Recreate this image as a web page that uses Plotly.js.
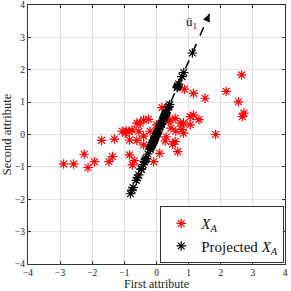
<!DOCTYPE html>
<html><head><meta charset="utf-8">
<script src="https://cdn.plot.ly/plotly-3.0.1.min.js"></script>
<style>html,body{margin:0;padding:0;background:#fff;}#c{width:291px;height:291px;}</style>
</head><body><div id="c"></div>
<script>
// Original points X_A (first attribute, second attribute)
const xA = [-2.89,-2.58,-2.25,-2.13,-1.93,-1.71,-1.48,-1.37,-1.31,-1.07,-0.94,-0.85,-0.76,-0.84,-0.61,-0.84,-0.69,-0.75,-0.61,-0.40,-0.25,-0.51,0.17,0.87,1.15,1.51,2.17,2.65,2.55,2.72,2.67,1.84,0.42,0.58,0.74,1.05,1.15,1.32,0.84,0.79,1.05,0.84,0.30,0.38,-0.40,-0.40,-0.09,0.10,0.58,0.66,0.27,0.50,-0.97,-0.55,-0.20,0.00,0.60,0.45];
const yA = [-0.91,-0.91,-0.61,-1.02,-0.84,-0.18,-0.84,-0.68,-0.14,0.10,0.11,0.09,0.14,-0.17,0.35,-0.63,-0.81,-0.94,-0.18,0.45,0.47,0.35,0.83,1.40,1.27,1.12,1.33,1.84,1.01,0.66,0.55,0.00,0.45,0.50,0.35,0.55,0.60,0.46,0.35,0.16,0.30,0.04,-0.07,0.40,-0.05,-0.32,-0.84,-0.58,-0.22,-0.53,-0.20,-0.30,0.04,0.10,0.10,0.30,0.10,0.20];
// first principal direction u1 (unit vector) and arrow length
const u1 = [0.405, 0.914];
const arrowLen = 4.07;
const legendNames = ['<i>X</i><sub><i>A</i></sub>', 'Projected <i>X</i><sub><i>A</i></sub>'];
const axisTitles = ['First attribute', 'Second attribute'];
const tickVals = [-4,-3,-2,-1,0,1,2,3,4];

// Projection of each point onto u1
const t = xA.map((x,i)=> x*u1[0] + yA[i]*u1[1]);
const xP = t.map(v=>v*u1[0]);
const yP = t.map(v=>v*u1[1]);
const tip = [arrowLen*u1[0], arrowLen*u1[1]];

const serif = 'Liberation Serif, Times New Roman, serif';
const traces = [
 {x:xA, y:yA, mode:'markers', type:'scatter', name:legendNames[0],
  marker:{symbol:'asterisk-open', size:8, color:'red', line:{color:'red', width:1.2}}},
 {x:xP, y:yP, mode:'markers', type:'scatter', name:legendNames[1],
  marker:{symbol:'asterisk-open', size:8, color:'black', line:{color:'black', width:1.2}}},
 {x:[0, tip[0]], y:[0, tip[1]], mode:'lines', type:'scatter', showlegend:false,
  line:{color:'black', width:1.5, dash:'dash'}, hoverinfo:'skip'}
];
const ax = {
 range:[-4,4], tickvals:tickVals, showgrid:true, gridcolor:'#e3e3e3', gridwidth:1,
 zeroline:false, showline:true, linecolor:'#333', linewidth:1, mirror:'ticks',
 ticks:'inside', ticklen:3, tickcolor:'#333', tickfont:{family:serif, size:9.5, color:'#222'}
};
const layout = {
 width:291, height:291, margin:{l:28, r:6, t:5, b:27},
 paper_bgcolor:'#fff', plot_bgcolor:'#fff',
 xaxis:Object.assign({}, ax, {ticklabelstandoff:0, title:{text:axisTitles[0], font:{family:serif, size:12, color:'#222'}, standoff:0}}),
 yaxis:Object.assign({}, ax, {title:{text:axisTitles[1], font:{family:serif, size:12.5, color:'#222'}, standoff:1}}),
 showlegend:true,
 legend:{x:0.997, y:0.003, xanchor:'right', yanchor:'bottom', bgcolor:'#fff',
  bordercolor:'#333', borderwidth:1, font:{family:serif, size:15, color:'#111'},
  tracegroupgap:0, itemwidth:30},
 annotations:[
  {x:tip[0], y:tip[1], ax:tip[0]-0.25*u1[0], ay:tip[1]-0.25*u1[1], xref:'x', yref:'y', axref:'x', ayref:'y',
   showarrow:true, arrowhead:2, arrowsize:1, arrowwidth:1.5, arrowcolor:'black', text:''},
  {x:1.1, y:3.45, xref:'x', yref:'y', text:'ū<sub>1</sub>', showarrow:false,
   font:{family:serif, size:13, color:'#111'}}
 ]
};
Plotly.newPlot('c', traces, layout, {displayModeBar:false, staticPlot:true});
</script></body></html>
